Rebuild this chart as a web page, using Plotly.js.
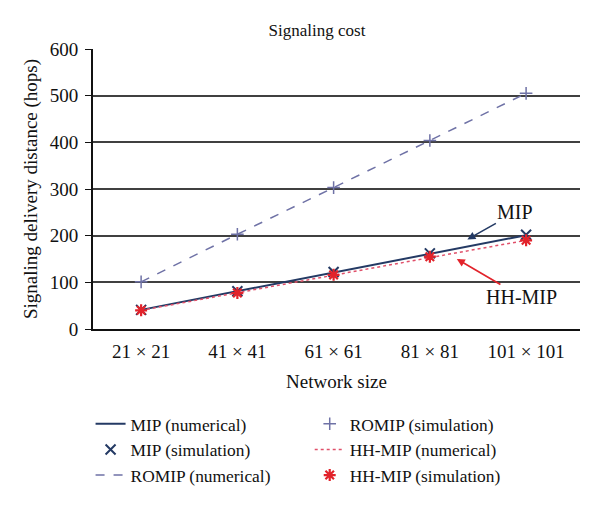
<!DOCTYPE html>
<html><head><meta charset="utf-8">
<script src="https://cdn.plot.ly/plotly-3.0.1.min.js"></script>
<style>body{margin:0;background:#fff}#g{width:600px;height:505px}</style>
</head><body><div id="g"></div>
<script>
const categories = ["21 × 21", "41 × 41", "61 × 61", "81 × 81", "101 × 101"];
const mipNumerical = [41, 81, 121, 161, 201];
const mipSimulation = [41, 81, 122, 162, 202];
const romipNumerical = [101, 203, 303, 404, 505];
const romipSimulation = [101, 203, 303, 404, 505];
const hhNumerical = [40, 78, 116, 153, 190];
const hhSimulation = [40, 77, 116, 155, 190];
const yTicks = [0, 100, 200, 300, 400, 500, 600];

const F = "Liberation Serif, DejaVu Serif, serif";
const navy = "#243a64", slate = "#6f72a6", red = "#e2232b", pink = "#e0506a";
const TICK = 19, LEG = 17.4;

const traces = [
  {x: categories, y: mipNumerical, name: "MIP (numerical)", mode: "lines", line: {color: navy, width: 2}, legend: "legend"},
  {x: categories, y: mipSimulation, name: "MIP (simulation)", mode: "markers", marker: {symbol: "x-thin-open", size: 10, line: {color: navy, width: 2}, color: navy}, legend: "legend"},
  {x: categories, y: romipNumerical, name: "ROMIP (numerical)", mode: "lines", line: {color: slate, width: 1.5, dash: "dash"}, legend: "legend"},
  {x: categories, y: romipSimulation, name: "ROMIP (simulation)", mode: "markers", marker: {symbol: "cross-thin-open", size: 9, line: {color: slate, width: 1.5}, color: slate}, legend: "legend2"},
  {x: categories, y: hhNumerical, name: "HH-MIP (numerical)", mode: "lines", line: {color: pink, width: 1.5, dash: "dot"}, legend: "legend2"},
  {x: categories, y: hhSimulation, name: "HH-MIP (simulation)", mode: "markers", marker: {symbol: "asterisk-open", size: 10, line: {color: red, width: 2.2}, color: red}, legend: "legend2"}
];

const layout = {
  width: 600, height: 505,
  margin: {l: 93, r: 20, t: 49, b: 172},
  paper_bgcolor: "#fff", plot_bgcolor: "#fff",
  font: {family: F, size: TICK, color: "#111"},
  title: {text: "Signaling cost", xref: "paper", x: 0.46, xanchor: "center", y: 0.94, yanchor: "middle", font: {family: F, size: 17, color: "#111"}},
  xaxis: {
    type: "category", range: [-0.5, 4.56], showgrid: false, zeroline: false,
    showline: true, linecolor: "#111", linewidth: 2, ticks: "",
    tickfont: {family: F, size: TICK, color: "#111"}, ticklabelstandoff: 4,
    title: {text: "Network size", font: {family: F, size: TICK, color: "#111"}, standoff: 14}
  },
  yaxis: {
    range: [0, 600], tickvals: yTicks, ticktext: yTicks.map(String),
    showgrid: true, gridcolor: "#404040", gridwidth: 2, zeroline: false,
    showline: true, linecolor: "#111", linewidth: 2, ticks: "outside", ticklen: 6, tickcolor: "#111",
    tickfont: {family: F, size: TICK, color: "#111"}, ticklabelstandoff: 3,
    title: {text: "Signaling delivery distance (hops)", font: {family: F, size: 19, color: "#111"}, standoff: 7}
  },
  legend: {x: -0.005, xanchor: "left", y: -0.275, yanchor: "top", bgcolor: "rgba(0,0,0,0)", font: {family: F, size: LEG, color: "#111"}, tracegroupgap: 0, itemwidth: 30},
  legend2: {x: 0.445, xanchor: "left", y: -0.275, yanchor: "top", bgcolor: "rgba(0,0,0,0)", font: {family: F, size: LEG, color: "#111"}, tracegroupgap: 0, itemwidth: 30},
  showlegend: true,
  annotations: [
    {x: 3.39, y: 192, xref: "x", yref: "y", text: "MIP", showarrow: true, ax: 48, ay: -27, arrowhead: 2, arrowsize: 1, arrowwidth: 1.6, arrowcolor: navy, font: {family: F, size: 20, color: "#111"}},
    {x: 3.28, y: 150, xref: "x", yref: "y", text: "HH-MIP", showarrow: true, ax: 65, ay: 38, arrowhead: 2, arrowsize: 1, arrowwidth: 1.6, arrowcolor: red, font: {family: F, size: 20, color: "#111"}}
  ]
};
Plotly.newPlot("g", traces, layout, {displayModeBar: false, staticPlot: true});
</script></body></html>
